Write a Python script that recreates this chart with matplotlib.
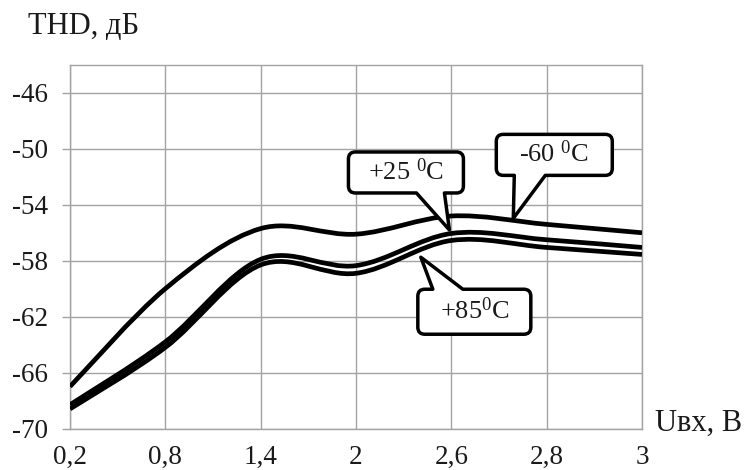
import numpy as np
import matplotlib
matplotlib.use("Agg")
import matplotlib.pyplot as plt
from matplotlib.path import Path
from matplotlib.patches import PathPatch
import matplotlib.transforms as mtransforms

plt.rcParams["font.family"] = ["Liberation Serif", "DejaVu Serif"]
plt.rcParams["mathtext.fontset"] = "custom"
plt.rcParams["mathtext.rm"] = "Liberation Serif"
plt.rcParams["mathtext.it"] = "Liberation Serif:italic"

# Input voltage categories (V) and THD (dB) at three temperatures
u_in = ["0,2", "0,8", "1,4", "2", "2,6", "2,8", "3"]
thd_m60 = [-67.0, -60.0, -55.7, -56.1, -54.8, -55.4, -56.0]
thd_p25 = [-68.3, -63.8, -57.9, -58.35, -56.05, -56.5, -57.05]
thd_p85 = [-68.6, -64.2, -58.3, -58.9, -56.55, -57.05, -57.55]

y_ticks = [-70, -66, -62, -58, -54, -50, -46]


def smooth_path(values):
    """Bezier path through the points with spreadsheet-style smoothing."""
    x = np.arange(len(values), dtype=float)
    y = np.asarray(values, dtype=float)
    pts = np.column_stack([x, y])
    ext = np.vstack([pts[0], pts, pts[-1]])
    verts = [pts[0]]
    codes = [Path.MOVETO]
    for i in range(len(pts) - 1):
        p0, p1, p2, p3 = ext[i], ext[i + 1], ext[i + 2], ext[i + 3]
        c1 = p1 + (p2 - p0) / 6.0
        c2 = p2 - (p3 - p1) / 6.0
        verts += [c1, c2, p2]
        codes += [Path.CURVE4] * 3
    return Path(verts, codes)


def callout(ax, tip, box, base, text, side="bottom", r=7, fs=19):
    """Rounded box with a pointer ending at `tip` (data coords).
    box = (x0, x1, y0, y1) and base = (xa, xb) are pixel offsets from the tip."""
    x0, x1, y0, y1 = box
    xa, xb = base
    v = [(x0 + r, y1)]
    c = [Path.MOVETO]
    if side == "top":
        v += [(xa, y1), (0, 0), (xb, y1)]
        c += [Path.LINETO] * 3
    v += [(x1 - r, y1), (x1, y1), (x1, y1 - r),
          (x1, y0 + r), (x1, y0), (x1 - r, y0)]
    c += [Path.LINETO, Path.CURVE3, Path.CURVE3,
          Path.LINETO, Path.CURVE3, Path.CURVE3]
    if side == "bottom":
        v += [(xb, y0), (0, 0), (xa, y0)]
        c += [Path.LINETO] * 3
    v += [(x0 + r, y0), (x0, y0), (x0, y0 + r),
          (x0, y1 - r), (x0, y1), (x0 + r, y1), (x0 + r, y1)]
    c += [Path.LINETO, Path.CURVE3, Path.CURVE3,
          Path.LINETO, Path.CURVE3, Path.CURVE3, Path.CLOSEPOLY]
    fig = ax.figure
    trans = (mtransforms.Affine2D().scale(fig.dpi / 100.0)
             + mtransforms.ScaledTranslation(tip[0], tip[1], ax.transData))
    patch = PathPatch(Path(v, c), transform=trans, facecolor="white",
                      edgecolor="black", linewidth=2.5, zorder=5,
                      clip_on=False, joinstyle="round")
    ax.add_patch(patch)
    ax.text((x0 + x1) / 2.0, (y0 + y1) / 2.0 + 1, text, transform=trans,
            ha="center", va="center", fontsize=fs, color="#1a1a1a", zorder=6)


fig = plt.figure(figsize=(7.46, 4.70), dpi=100)
W, H = 746.0, 470.0
ax = fig.add_axes([70 / W, 1 - 428.5 / H, (642 - 70) / W, (428.5 - 65) / H])
ax.set_xlim(0, len(u_in) - 1)
ax.set_ylim(-70, -44)

grid_c = "#a3a3a3"
ax.set_xticks(range(len(u_in)))
ax.set_xticklabels(u_in)
ax.set_yticks(y_ticks)
ax.set_yticklabels([str(t) for t in y_ticks])
ax.grid(True, color=grid_c, linewidth=1.0)
for s in ax.spines.values():
    s.set_color(grid_c)
    s.set_linewidth(1.0)
ax.tick_params(axis="x", length=0, pad=12, labelsize=19.5, labelcolor="#1a1a1a")
ax.tick_params(axis="y", length=6, width=1.0, color=grid_c, pad=10,
               labelsize=19.5, labelcolor="#1a1a1a")

for vals in [thd_m60, thd_p25, thd_p85]:
    ax.add_patch(PathPatch(smooth_path(vals), facecolor="none",
                           edgecolor="black", linewidth=3.4, zorder=3,
                           capstyle="butt"))

callout(ax, (3.98, -55.8), (-101, 14, 37, 78), (-33, -5), "+25 $^{0}$C")
callout(ax, (4.65, -54.97), (-17, 99, 43, 84), (1, 32), "-60 $^{0}$C")
callout(ax, (3.68, -57.75), (-3, 110, -77, -32), (12, 42), "+85$^{0}$C",
        side="top")

fig.text(28 / W, 1 - 12 / H, "THD, дБ", ha="left", va="top", fontsize=22,
         color="#1a1a1a")
fig.text(655 / W, 1 - 423 / H, "Uвх, В", ha="left", va="center", fontsize=22,
         color="#1a1a1a")

fig.savefig("out.png", dpi=100, facecolor="white")
